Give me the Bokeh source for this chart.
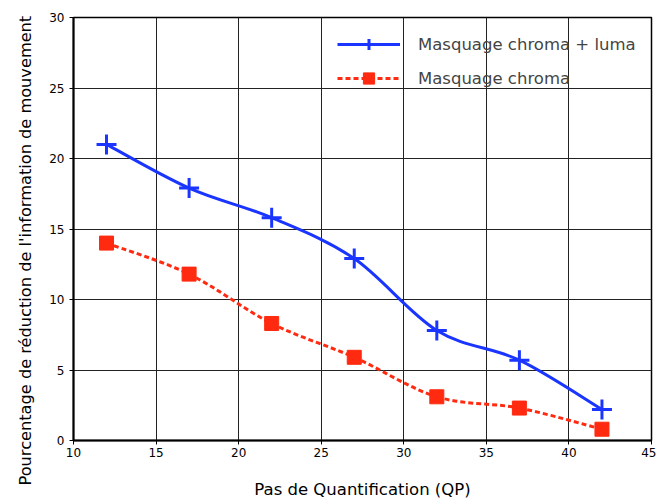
from bokeh.plotting import figure
from bokeh.models import Range1d, FixedTicker, Legend, LegendItem, ColumnDataSource, Title
from bokeh.embed import file_html
from bokeh.resources import INLINE

qp = [12, 17, 22, 27, 32, 37, 42]
chroma_luma = [21.0, 17.9, 15.8, 12.9, 7.8, 5.7, 2.2]
chroma = [14.0, 11.8, 8.3, 5.9, 3.1, 2.3, 0.8]
x_ticks = [10, 15, 20, 25, 30, 35, 40, 45]
y_ticks = [0, 5, 10, 15, 20, 25, 30]
label_cl = "Masquage chroma + luma"
label_c = "Masquage chroma"
x_title = "Pas de Quantification (QP)"
y_title = "Pourcentage de réduction de l'information de mouvement"

FONT = "DejaVu Sans"

p = figure(width=656, height=502, output_backend="svg", toolbar_location=None,
           x_range=Range1d(10, 45), y_range=Range1d(0, 30),
           min_border_left=73, min_border_right=5, min_border_top=17, min_border_bottom=62)

p.outline_line_color = "black"
p.outline_line_width = 1.5
for ax in (p.xaxis[0], p.yaxis[0]):
    ax.axis_line_width = 2
    ax.axis_line_color = "black"
    ax.major_tick_out = 4
    ax.major_tick_in = 0
    ax.minor_tick_out = 0
    ax.minor_tick_in = 0
    ax.major_label_text_font = FONT
    ax.major_label_text_font_size = "12px"
    ax.major_label_text_color = "black"
p.xaxis[0].ticker = FixedTicker(ticks=x_ticks)
p.yaxis[0].ticker = FixedTicker(ticks=y_ticks)
p.xaxis[0].major_label_standoff = 3
p.xaxis[0].axis_label = x_title
p.xaxis[0].axis_label_standoff = 20
p.xaxis[0].axis_label_text_font = FONT
p.xaxis[0].axis_label_text_font_size = "16.5px"
p.xaxis[0].axis_label_text_font_style = "normal"
p.xaxis[0].axis_label_text_color = "black"

p.xgrid.grid_line_color = "#222222"
p.ygrid.grid_line_color = "#222222"
p.xgrid.grid_line_width = 1
p.ygrid.grid_line_width = 1

p.add_layout(Title(text=y_title, align="left", vertical_align="top", standoff=20, offset=-45,
                   text_font=FONT, text_font_size="16.2px", text_font_style="normal",
                   text_color="black"), "left")


def smooth(xs, ys):
    # Catmull-Rom style control points from the data, drawn as Bezier by Bokeh
    n = len(xs)
    d = dict(x0=[], y0=[], x1=[], y1=[], cx0=[], cy0=[], cx1=[], cy1=[])
    for i in range(n - 1):
        xm = xs[i - 1] if i > 0 else xs[i]
        ym = ys[i - 1] if i > 0 else ys[i]
        xp = xs[i + 2] if i + 2 < n else xs[i + 1]
        yp = ys[i + 2] if i + 2 < n else ys[i + 1]
        d["x0"].append(xs[i]); d["y0"].append(ys[i])
        d["x1"].append(xs[i + 1]); d["y1"].append(ys[i + 1])
        d["cx0"].append(xs[i] + (xs[i + 1] - xm) / 6.0)
        d["cy0"].append(ys[i] + (ys[i + 1] - ym) / 6.0)
        d["cx1"].append(xs[i + 1] - (xp - xs[i]) / 6.0)
        d["cy1"].append(ys[i + 1] - (yp - ys[i]) / 6.0)
    return ColumnDataSource(d)


BLUE = "#1a35ff"
RED = "#ff2a10"

b1 = p.bezier(x0="x0", y0="y0", x1="x1", y1="y1", cx0="cx0", cy0="cy0", cx1="cx1", cy1="cy1",
              source=smooth(qp, chroma_luma), line_color=BLUE, line_width=3)
s1 = p.scatter(qp, chroma_luma, marker="cross", size=20, line_color=BLUE, line_width=3)

b2 = p.bezier(x0="x0", y0="y0", x1="x1", y1="y1", cx0="cx0", cy0="cy0", cx1="cx1", cy1="cy1",
              source=smooth(qp, chroma), line_color=RED, line_width=3, line_dash="5 3")
s2 = p.scatter(qp, chroma, marker="square", size=14, fill_color=RED, line_color=RED)

legend = Legend(items=[LegendItem(label=label_cl, renderers=[b1, s1]),
                       LegendItem(label=label_c, renderers=[b2, s2])],
                location=(264, 348), background_fill_alpha=0, border_line_alpha=0,
                glyph_width=63, glyph_height=28, label_standoff=18, spacing=6,
                label_text_font=FONT, label_text_font_size="16.5px", padding=0, margin=0)
p.add_layout(legend)

open("out.html", "w").write(file_html(p, INLINE))
